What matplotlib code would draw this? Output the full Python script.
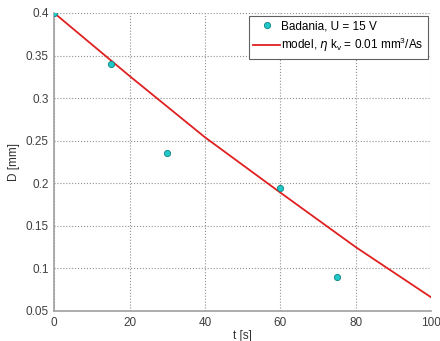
import matplotlib
matplotlib.use("Agg")
from matplotlib import pyplot as plt
from matplotlib.ticker import FuncFormatter

# measured points
t_meas = [0, 15, 30, 60, 75]
d_meas = [0.4, 0.34, 0.235, 0.195, 0.09]

# model curve
t_model = [0, 20, 40, 60, 80, 100]
d_model = [0.4, 0.326, 0.254, 0.189, 0.125, 0.066]

plt.rcParams['font.family'] = ['Liberation Sans', 'DejaVu Sans']
fig = plt.figure(figsize=(4.4, 3.41), dpi=100)
ax = fig.add_axes([0.123, 0.088, 0.857, 0.874])

ax.plot(t_model, d_model, color='#e02020', linewidth=1.3,
        label=r'model, $\eta$ k$_\mathregular{v}$ = 0.01 mm$^\mathregular{3}$/As', zorder=2)
ax.plot(t_meas, d_meas, 'o', color='#20c8c8', markeredgecolor='#108080',
        markersize=4.5, markeredgewidth=0.6, label='Badania, U = 15 V', zorder=3)

ax.set_xlim(0, 100)
ax.set_ylim(0.05, 0.4)
ax.set_xticks([0, 20, 40, 60, 80, 100])
ax.set_yticks([0.05, 0.1, 0.15, 0.2, 0.25, 0.3, 0.35, 0.4])
ax.yaxis.set_major_formatter(FuncFormatter(lambda v, p: '%g' % round(v, 2)))
ax.grid(True, linestyle=':', color='#909090', linewidth=0.8)
ax.spines['top'].set_visible(False)
ax.spines['right'].set_visible(False)
for s in ['left', 'bottom']:
    ax.spines[s].set_color('#a0a0a0')
    ax.spines[s].set_linewidth(1.2)
ax.tick_params(labelsize=8.5, colors='#404040', length=0, pad=4)
ax.set_xlabel('t [s]', fontsize=8.5, color='#303030', labelpad=1)
ax.set_ylabel('D [mm]', fontsize=8.5, color='#303030', labelpad=4)

# data first in the legend, model second
h, l = ax.get_legend_handles_labels()
leg = ax.legend([h[1], h[0]], [l[1], l[0]], loc='upper right', fontsize=8.5,
                fancybox=False, edgecolor='#606060', framealpha=1,
                borderaxespad=0.3, handlelength=2.3, handletextpad=0.05,
                borderpad=0.35, labelspacing=0.3)
leg.get_frame().set_linewidth(0.8)

plt.savefig('out.png', dpi=100)
